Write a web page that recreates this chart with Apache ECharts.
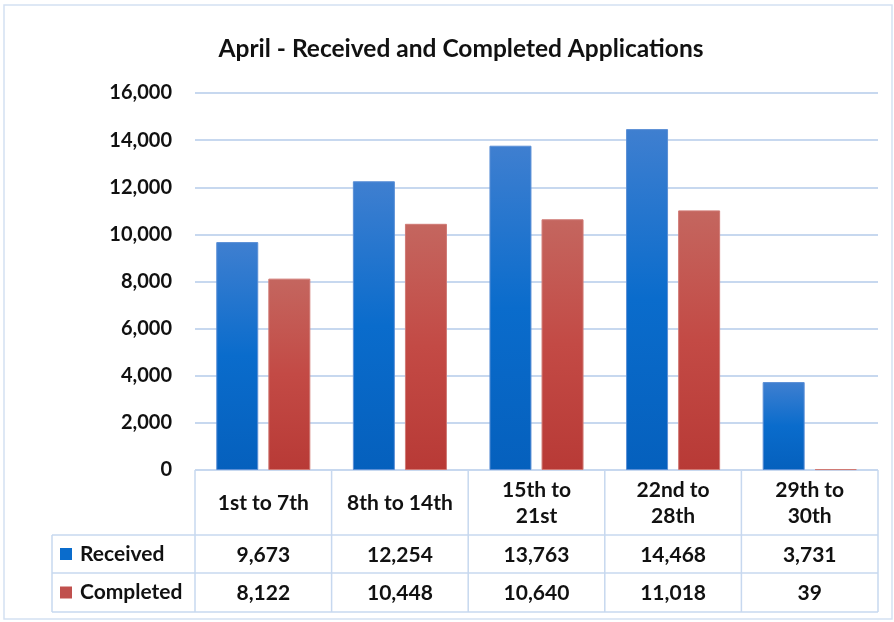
<!DOCTYPE html>
<html>
<head>
<meta charset="utf-8">
<script src="https://cdn.jsdelivr.net/npm/echarts@6/dist/echarts.min.js"></script>
<style>
  html, body { margin: 0; padding: 0; background: #fff; }
  #chart { width: 894px; height: 622px; }
</style>
</head>
<body>
<div id="chart"></div>
<script>
// data
const categories = ['1st to 7th', '8th to 14th', '15th to 21st', '22nd to 28th', '29th to 30th']
const headerLabels = ['1st to 7th', '8th to 14th', '15th to\n21st', '22nd to\n28th', '29th to\n30th']
const received = [9673, 12254, 13763, 14468, 3731]
const completed = [8122, 10448, 10640, 11018, 39]
const seriesNames = ['Received', 'Completed']

const FONT = 'Lato, "Open Sans", sans-serif'
const TXT = '#111'
const LINE = '#c7d8ef'

// layout of plot + table
const gLeft = 195, gRight = 878, gTop = 93, gBottom = 470
const rowH = [65, 38, 39]
const keyLeft = 52

const fmt = v => v.toLocaleString('en-US')

const chart = echarts.init(document.getElementById('chart'))

function blueGrad() {
  return new echarts.graphic.LinearGradient(0, 0, 0, 1, [
    { offset: 0, color: '#3f7fd0' }, { offset: 0.5, color: '#0a6ccc' }, { offset: 1, color: '#0560bd' }
  ])
}
function redGrad() {
  return new echarts.graphic.LinearGradient(0, 0, 0, 1, [
    { offset: 0, color: '#c4665f' }, { offset: 0.5, color: '#c34a45' }, { offset: 1, color: '#b83a36' }
  ])
}

function buildTable() {
  const els = []
  const y1 = gBottom + rowH[0], y2 = y1 + rowH[1], y3 = y2 + rowH[2]
  const colW = (gRight - gLeft) / categories.length
  const ln = (x1, ya, x2, yb) => ({
    type: 'line', shape: { x1, y1: ya, x2, y2: yb },
    style: { stroke: LINE, lineWidth: 1.5 }, silent: true
  })
  els.push(ln(gLeft, gBottom, gRight, gBottom))
  els.push(ln(keyLeft, y1, gRight, y1))
  els.push(ln(keyLeft, y2, gRight, y2))
  els.push(ln(keyLeft, y3, gRight, y3))
  els.push(ln(keyLeft, y1, keyLeft, y3))
  for (let i = 0; i <= categories.length; i++) {
    const x = gLeft + i * colW
    els.push(ln(x, gBottom, x, y3))
  }
  const rows = [received, completed]
  const colors = ['#0a6ccc', '#c0504d']
  const ys = [y1, y2]
  rows.forEach((vals, r) => {
    const cy = ys[r] + rowH[r + 1] / 2
    els.push({ type: 'rect', shape: { x: keyLeft + 8, y: cy - 6, width: 12, height: 12 },
      style: { fill: colors[r] }, silent: true })
    els.push({ type: 'text', x: keyLeft + 28, y: cy, silent: true,
      style: { text: seriesNames[r], font: 'bold 21px ' + FONT, fill: TXT, verticalAlign: 'middle', align: 'left' } })
    vals.forEach((v, i) => {
      els.push({ type: 'text', x: gLeft + (i + 0.5) * colW, y: cy + 1, silent: true,
        style: { text: fmt(v), font: 'bold 21px ' + FONT, fill: TXT, verticalAlign: 'middle', align: 'center' } })
    })
  })
  els.push({ type: 'rect', shape: { x: 4, y: 5, width: 888, height: 614 },
    style: { fill: 'none', stroke: '#d4e1f2', lineWidth: 1.5 }, silent: true, z: -1 })
  return els
}

chart.setOption({
  animation: false,
  title: {
    text: 'April - Received and Completed Applications',
    left: 456, top: 32, textAlign: 'center',
    textStyle: { fontFamily: FONT, fontSize: 24.5, fontWeight: 'bold', color: TXT }
  },
  grid: { left: gLeft, right: 894 - gRight, top: gTop, bottom: 622 - gBottom, containLabel: false },
  xAxis: {
    type: 'category', data: categories,
    axisLine: { show: false }, axisTick: { show: false },
    axisLabel: {
      interval: 0, hideOverlap: false,
      margin: 33, lineHeight: 26, fontFamily: FONT, fontSize: 21, fontWeight: 'bold', color: TXT,
      verticalAlign: 'middle',
      formatter: (v, i) => headerLabels[i]
    }
  },
  yAxis: {
    type: 'value', min: 0, max: 16000, interval: 2000,
    axisLine: { show: false }, axisTick: { show: false },
    axisLabel: { margin: 23, fontFamily: FONT, fontSize: 20, fontWeight: 'bold', color: TXT, formatter: fmt },
    splitLine: { lineStyle: { color: LINE, width: 2 } }
  },
  series: [
    { name: seriesNames[0], type: 'bar', data: received, barWidth: 42, barGap: '24%',
      itemStyle: { color: blueGrad(), borderColor: '#5b8fd6', borderWidth: 1 } },
    { name: seriesNames[1], type: 'bar', data: completed, barWidth: 42,
      itemStyle: { color: redGrad(), borderColor: '#d07a75', borderWidth: 1 } }
  ],
  graphic: buildTable()
})
</script>
</body>
</html>
